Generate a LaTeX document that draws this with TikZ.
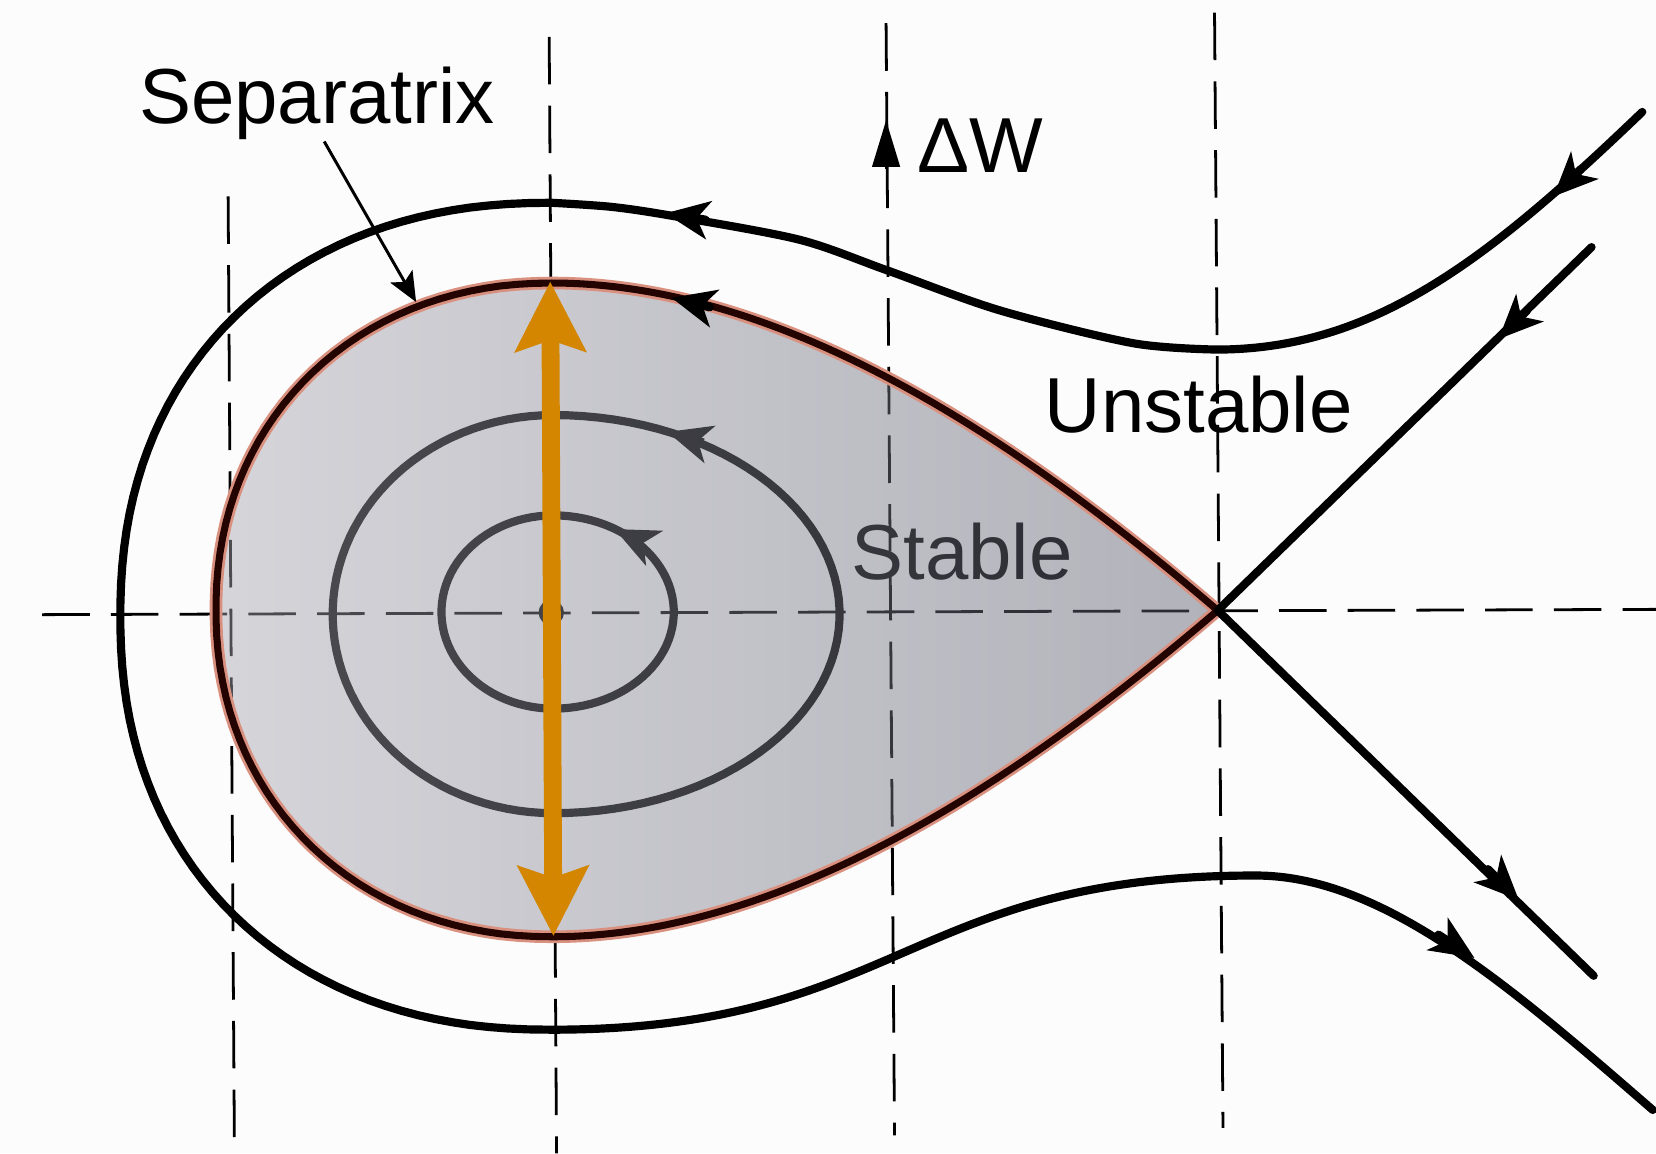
\documentclass[tikz,border=0pt]{standalone}
\usepackage{fontspec}
\setmainfont{Liberation Sans}
\usetikzlibrary{arrows.meta}
\definecolor{bgc}{HTML}{FCFCFC}
\definecolor{shL}{RGB}{167,167,178}
\definecolor{shR}{RGB}{91,91,109}
\definecolor{salmon}{HTML}{D9907F}
\definecolor{sepdark}{HTML}{240401}
\definecolor{orng}{HTML}{D48600}
\def\seppath{(1153,578) .. controls (963,415) and (741,268) .. (522.5,268)
  -- plot[domain=90:270,samples=70] ({522.5-318*pow(abs(cos(\x))+0.0001,0.95)},{577.5-309.5*sin(\x)*pow(abs(sin(\x))+0.0001,-0.05)})
  .. controls (741,887) and (963,741) .. (1153,578)}
\begin{document}
\begin{tikzpicture}[x=0.01cm,y=-0.01cm,
  curve/.style={line width=2.2pt,line cap=round,line join=round},
  orb/.style={line width=2.2pt},
  axisln/.style={line width=0.75pt,dash pattern=on 12.8pt off 5.7pt},
  lbl/.style={font=\fontsize{21}{25}\selectfont,inner sep=0pt,anchor=base},
  midtip/.style={-{Stealth[length=0.42cm,width=0.37cm,inset=0.12cm,line width=0.4pt]}},
  orangetip/.tip={Stealth[length=0.67cm,width=0.69cm,inset=0.12cm,line width=0pt]},
]
\fill[bgc] (0,0) rectangle (1568,1092);
\useasboundingbox (0,0) rectangle (1568,1092);

% dashed guide lines
\draw[axisln] (40,582) -- (1568,577);
\draw[axisln] (216,186) -- (222,1092);
\draw[axisln] (520,35) -- (527,1092);
\draw[axisln] (839,22) -- (847,1075);
\draw[axisln] (1150,12) -- (1158,1068);

% orbits inside the bucket
\draw[orb] plot[domain=-90:90,samples=60] ({524+271*cos(\x)},{581.5-188.5*sin(\x)})
  -- plot[domain=90:270,samples=60] ({524+209*cos(\x)},{581.5-188.5*sin(\x)}) -- cycle;
\draw[orb] plot[domain=-90:90,samples=50] ({524+114*cos(\x)},{579.5-91.5*sin(\x)})
  -- plot[domain=90:270,samples=50] ({524+106*cos(\x)},{579.5-91.5*sin(\x)}) -- cycle;
\fill (522,580) circle[radius=12];
\draw[orb,midtip] (666,419) -- (632,409);
\draw[orb,midtip] (609,514) -- (582,501);
\node[lbl] (stab) at (911,549) {Stable};

% bucket overlay
\shade[left color=shL,right color=shR,fill opacity=0.46] \seppath -- cycle;

% separatrix outline
\draw[salmon,line width=3.4pt,line join=round] \seppath;
\draw[sepdark,line width=1.9pt,line join=round] \seppath;
\draw[curve,midtip] (672,291) -- (636,282);

% separatrix branches at the X-point
\coordinate (X) at (1153,578);
\coordinate (inEnd) at (1507,234);
\coordinate (outEnd) at (1509,924);
\draw[curve] (inEnd) -- (X) -- (outEnd);
\draw[curve,midtip] (1446,294) -- (1419,321);
\draw[curve,midtip] (1409,823) -- (1438,852);

% outer (unstable) trajectory
\draw[curve] (1555,106) .. controls (1411,244) and (1302,331) .. (1152,331)
  -- plot[smooth] coordinates {(1152,331) (1073,325) (947,294) (840,256) (757,227) (640,205) (580,196) (522,192)}
  -- plot[domain=90:270,samples=80] ({522-408*pow(abs(cos(\x))+0.0001,0.909)},{583.5-391.5*sin(\x)*pow(abs(sin(\x))+0.0001,-0.091)})
  .. controls (852,975) and (859,829) .. (1189,829)
  .. controls (1309,829) and (1429,933) .. (1565,1051);
\draw[curve,midtip] (1497,160) -- (1471,186);
\draw[curve,midtip] (668,208) -- (630,202);
\draw[curve,midtip] (1362,885) -- (1396,907);

% orange double arrow
\coordinate (oT) at (521,267);
\coordinate (oB) at (524,886);
\draw[orng,line width=4.8pt,{orangetip}-{orangetip}] (oT) -- (oB);

% labels
\node[lbl] (seplbl) at (300,117) {Separatrix};
\coordinate (ptrA) at (307,134);
\coordinate (ptrB) at (394,286);
\draw[line width=0.8pt,-{Stealth[length=0.28cm,width=0.24cm,inset=0.06cm]}] (ptrA) -- (ptrB);

\coordinate (dwA) at (839,160);
\coordinate (dwB) at (839,114);
\draw[line width=0.75pt,-{Triangle[length=0.44cm,width=0.26cm]}] (dwA) -- (dwB);
\node[lbl] (dw) at (928,163) {ΔW};
\node[lbl] (unst) at (1135,410) {Unstable};
\end{tikzpicture}
\end{document}
